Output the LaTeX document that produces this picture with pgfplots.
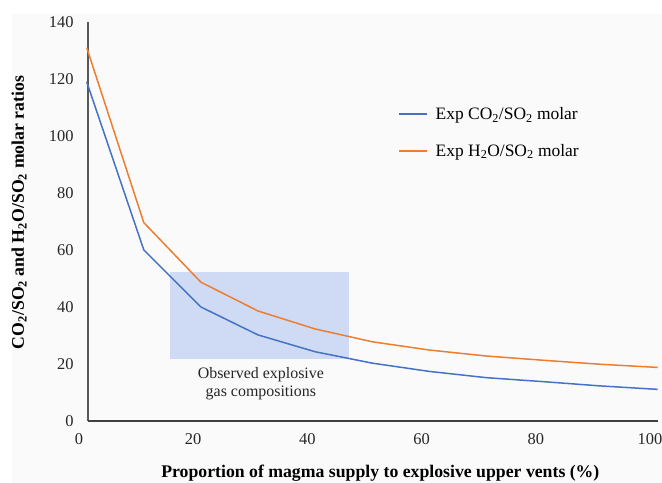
\documentclass[border=0pt]{standalone}
\usepackage{pgfplots}
\pgfplotsset{compat=1.18}
\usepackage{fontspec}
\setmainfont{Liberation Serif}

\definecolor{serBlue}{HTML}{4472C4}
\definecolor{serOrange}{HTML}{ED7D31}
\definecolor{boxBlue}{HTML}{CFDBF5}
\definecolor{axGray}{HTML}{595959}
\definecolor{bgGray}{HTML}{FAFAFA}

\pgfplotstableread{
x   co2   h2o
1   119   131
11  60    69.6
21  40    48.7
31  30.2  38.6
41  24.3  32.3
51  20.3  27.8
61  17.4  24.9
71  15.2  22.8
81  13.8  21.3
91  12.3  19.9
101 11.1  18.8
}\ratios

\begin{document}
\begin{tikzpicture}[x=1bp,y=1bp]
% page frame (page is 662 x 483)
\path[use as bounding box] (0,0) rectangle (662,483);
\fill[bgGray] (12,0) rectangle (662,469);
\begin{axis}[
  at={(81bp,62bp)}, anchor=south west,
  scale only axis,
  width=576.7bp, height=399bp,
  xmin=0, xmax=101, ymin=0, ymax=140,
  xtick={0,20,...,100},
  ytick={0,20,...,140},
  axis lines*=left,
  axis line style={draw=none},
  tick style={draw=none},
  /pgf/number format/assume math mode=true,
  ticklabel style={font=\fontsize{16.5}{16.5}\selectfont, text=black!85},
  xticklabel style={yshift=-11bp, xshift=-2bp, inner sep=1bp},
  yticklabel style={xshift=-4bp},
  xlabel={\textbf{Proportion of magma supply to explosive upper vents (\%)}},
  ylabel={\textbf{CO\textsubscript{2}/SO\textsubscript{2} and H\textsubscript{2}O/SO\textsubscript{2} molar ratios}},
  label style={font=\fontsize{17.8}{18}\selectfont},
  xlabel style={at={(axis description cs:0.5,0)}, anchor=base, yshift=-57bp, xshift=11bp},
  ylabel style={at={(axis description cs:0,0.5)}, anchor=base, yshift=57bp, xshift=9bp},
  legend style={draw=none, fill=none, at={(axis cs:55,111.5)}, anchor=north west,
    font=\fontsize{17.5}{17.5}\selectfont, row sep=19bp,
    legend cell align=left,
    /tikz/every odd column/.append style={column sep=6bp}},
  legend image code/.code={\draw[#1, line width=1.5pt] (0,0) -- (28bp,0);},
  clip=false,
]
\fill[boxBlue] (axis cs:15.5,21.8) rectangle (axis cs:47,52.3);
% axis lines
\draw[axGray, line width=1.3pt] (axis cs:1.2,0) -- (axis cs:1.2,140);
\draw[black!75, line width=1.3pt] (axis cs:1.2,0) -- (axis cs:101,0);
\addplot[serBlue, line width=1.5pt] table[x=x, y=co2] {\ratios};
\addplot[serOrange, line width=1.5pt] table[x=x, y=h2o] {\ratios};
\legend{Exp CO\textsubscript{2}/SO\textsubscript{2} molar, Exp H\textsubscript{2}O/SO\textsubscript{2} molar}
\node[align=center, font=\fontsize{16}{18.5}\selectfont, text=black!85, anchor=center]
  at (axis cs:31.5,13.0) {Observed explosive\\gas compositions};
\end{axis}
\end{tikzpicture}
\end{document}
